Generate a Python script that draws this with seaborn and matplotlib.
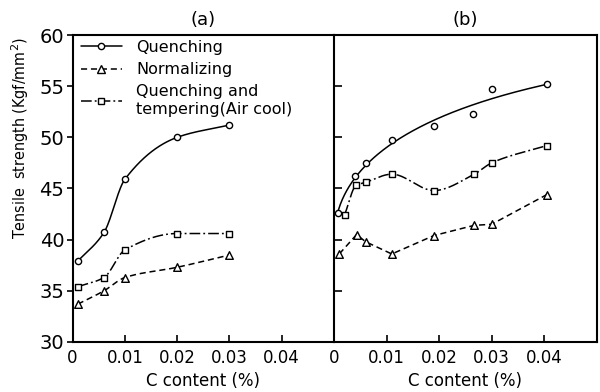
import numpy as np
import pandas as pd
import matplotlib
matplotlib.use("Agg")
import matplotlib.pyplot as plt
from matplotlib.lines import Line2D
import seaborn as sns

# ---- measured values -------------------------------------------------------
# panel (a)
a_x = [0.001, 0.006, 0.010, 0.020, 0.030]
a_quench = [37.9, 40.7, 45.9, 50.0, 51.2]
a_x_norm = [0.001, 0.006, 0.010, 0.020, 0.030]
a_norm = [33.7, 35.0, 36.3, 37.3, 38.5]
a_x_temper = [0.001, 0.006, 0.010, 0.020, 0.030]
a_temper = [35.4, 36.3, 39.0, 40.6, 40.6]

# panel (b)
b_x_quench = [0.0008, 0.0040, 0.0060, 0.0110, 0.0190, 0.0265, 0.0300, 0.0405]
b_quench = [42.6, 46.2, 47.5, 49.7, 51.1, 52.3, 54.7, 55.2]
b_x_norm = [0.0010, 0.0043, 0.0060, 0.0110, 0.0190, 0.0267, 0.0300, 0.0405]
b_norm = [38.6, 40.5, 39.8, 38.6, 40.4, 41.4, 41.5, 44.4]
b_x_temper = [0.0020, 0.0042, 0.0060, 0.0110, 0.0190, 0.0267, 0.0300, 0.0405]
b_temper = [42.4, 45.3, 45.6, 46.4, 44.8, 46.4, 47.5, 49.2]

x_ticks = [0, 0.01, 0.02, 0.03, 0.04]
x_tick_labels = ["0", "0.01", "0.02", "0.03", "0.04"]
y_ticks = [30, 35, 40, 45, 50, 55, 60]
series_names = ["Quenching", "Normalizing", "Quenching and\ntempering(Air cool)"]


def pchip(x, y, n=200):
    """Shape-preserving cubic (Fritsch-Carlson) curve through the points."""
    x = np.asarray(x, float)
    y = np.asarray(y, float)
    h = np.diff(x)
    d = np.diff(y) / h
    m = np.zeros_like(y)
    for k in range(1, len(x) - 1):
        if d[k - 1] * d[k] > 0:
            w1 = 2 * h[k] + h[k - 1]
            w2 = h[k] + 2 * h[k - 1]
            m[k] = (w1 + w2) / (w1 / d[k - 1] + w2 / d[k])
    m[0] = d[0]
    m[-1] = d[-1]
    xs = np.linspace(x[0], x[-1], n)
    idx = np.clip(np.searchsorted(x, xs) - 1, 0, len(h) - 1)
    t = (xs - x[idx]) / h[idx]
    h00 = 2 * t**3 - 3 * t**2 + 1
    h10 = t**3 - 2 * t**2 + t
    h01 = -2 * t**3 + 3 * t**2
    h11 = t**3 - t**2
    ys = (h00 * y[idx] + h10 * h[idx] * m[idx]
          + h01 * y[idx + 1] + h11 * h[idx] * m[idx + 1])
    return xs, ys


def sqrt_fit(x, y, n=200):
    """Least-squares trend y = a + b*sqrt(x) + c*x."""
    x = np.asarray(x, float)
    s = np.sqrt(x)
    coef = np.polyfit(s, np.asarray(y, float), 2)
    xs = np.linspace(x[0], x[-1], n)
    return xs, np.polyval(coef, np.sqrt(xs))


sns.set_theme(style="ticks")
plt.rcParams["font.family"] = ["DejaVu Sans"]
plt.rcParams["axes.linewidth"] = 1.5
for key in ("text.color", "axes.labelcolor", "xtick.color", "ytick.color",
            "axes.edgecolor"):
    plt.rcParams[key] = "black"

fig = plt.figure(figsize=(6.0, 3.92), dpi=100)
ax_a = fig.add_axes([0.121, 0.1276, 0.4357, 0.7831])
ax_b = fig.add_axes([0.5567, 0.1276, 0.4378, 0.7831], sharey=ax_a)

solid = "-"
dashed = (0, (4.0, 2.5))
dashdot = (0, (7.0, 2.0, 1.2, 2.0))
lw = 1.1

styles = {
    "quench": dict(ls=solid, marker="o", ms=20),
    "norm": dict(ls=dashed, marker="^", ms=30),
    "temper": dict(ls=dashdot, marker="s", ms=22),
}


def draw(ax, key, x, y, curve):
    st = styles[key]
    cx, cy = curve
    sns.lineplot(x=cx, y=cy, ax=ax, color="black", linewidth=lw,
                 linestyle=st["ls"], sort=False, estimator=None)
    sns.scatterplot(x=x, y=y, ax=ax, marker=st["marker"], s=st["ms"],
                    color="white", edgecolor="black", linewidth=1.0,
                    zorder=5)


# panel (a)
draw(ax_a, "quench", a_x, a_quench, pchip(a_x, a_quench))
draw(ax_a, "norm", a_x_norm, a_norm, pchip(a_x_norm, a_norm))
draw(ax_a, "temper", a_x_temper, a_temper, pchip(a_x_temper, a_temper))

# panel (b)
draw(ax_b, "quench", b_x_quench, b_quench, sqrt_fit(b_x_quench, b_quench))
draw(ax_b, "norm", b_x_norm, b_norm, (np.array(b_x_norm), np.array(b_norm)))
draw(ax_b, "temper", b_x_temper, b_temper, pchip(b_x_temper, b_temper))

for ax, title in [(ax_a, "(a)"), (ax_b, "(b)")]:
    ax.set_xlim(0, 0.05)
    ax.set_ylim(30, 60)
    ax.set_xticks(x_ticks)
    ax.set_xticklabels(x_tick_labels, fontsize=12)
    ax.set_xlabel("C content (%)", fontsize=12, labelpad=4)
    ax.set_title(title, fontsize=13, pad=7)
    ax.tick_params(axis="x", direction="in", length=5, width=1.2, pad=5)
    for sp in ax.spines.values():
        sp.set_visible(True)

ax_a.set_yticks(y_ticks)
ax_a.set_yticklabels([str(v) for v in y_ticks], fontsize=14)
ax_a.tick_params(axis="y", direction="out", length=4, width=1.2, pad=2)
ax_a.set_ylabel("Tensile  strength (Kgf/mm$^2$)", fontsize=11.5,
                fontstretch="condensed")
ax_a.yaxis.set_label_coords(-0.16, 0.665)
ax_b.tick_params(axis="y", direction="in", length=6, width=1.2,
                 labelleft=False)
ax_b.set_ylabel("")
ax_a.spines["right"].set_visible(False)

handles = [
    Line2D([0], [0], color="black", lw=lw, ls=solid, marker="o", ms=4.5,
           mfc="white", mec="black"),
    Line2D([0], [0], color="black", lw=lw, ls=dashed, marker="^", ms=5.5,
           mfc="white", mec="black"),
    Line2D([0], [0], color="black", lw=lw, ls=dashdot, marker="s", ms=4.5,
           mfc="white", mec="black"),
]
ax_a.legend(handles, series_names, loc="upper left", frameon=False,
            fontsize=11.5, handlelength=2.6, handletextpad=0.9,
            borderaxespad=0.1, labelspacing=0.45, numpoints=1,
            bbox_to_anchor=(0.0, 1.01))

fig.savefig("out.png", dpi=100)
